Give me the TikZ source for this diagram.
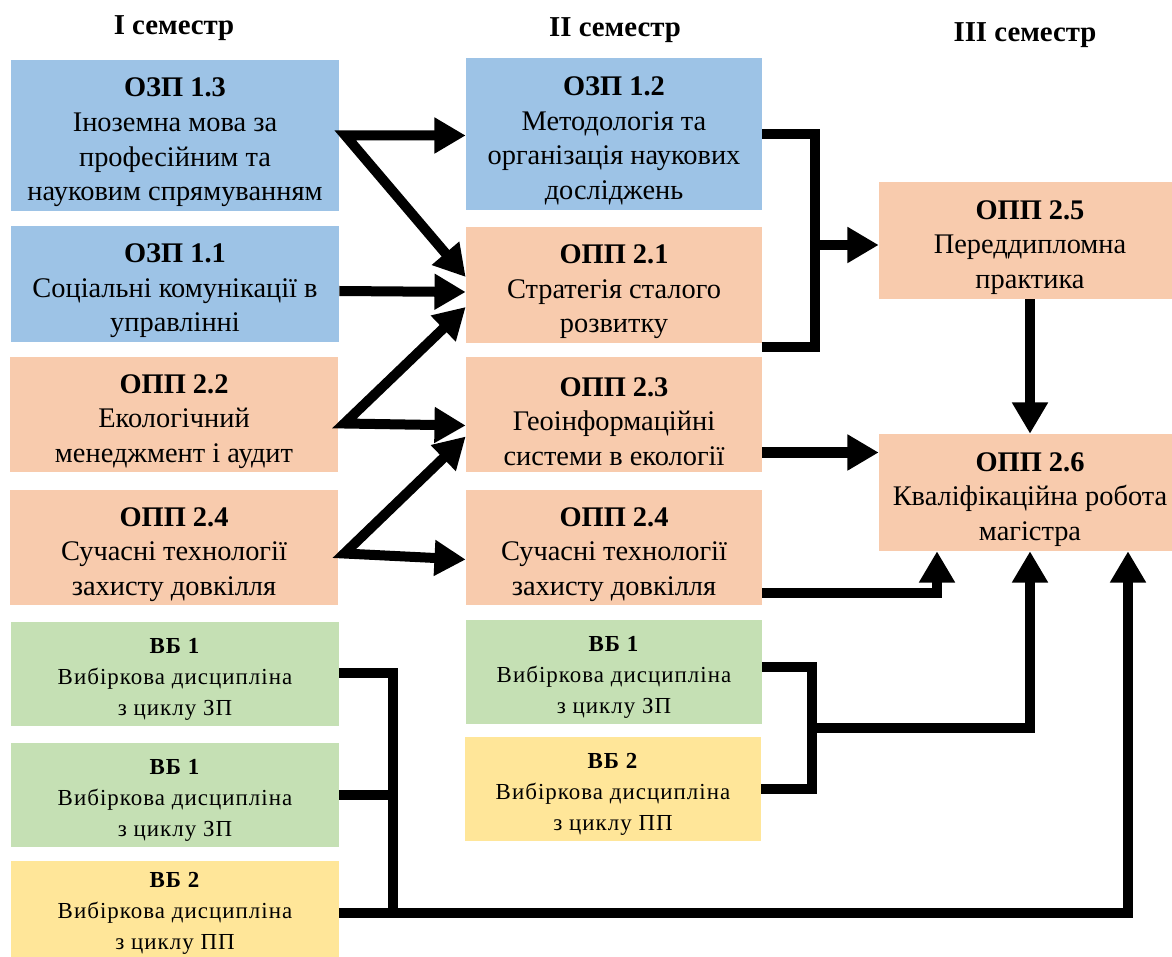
\documentclass[tikz,border=0pt]{standalone}
\usepackage{fontspec}
\setmainfont{Liberation Serif}[BoldFont={Liberation Serif Bold}]
\newfontfamily\vbfont{Liberation Serif}[BoldFont={Liberation Serif Bold}, LetterSpace=4.5]
\usepackage{tikz}
\usetikzlibrary{calc, positioning, arrows.meta}
\definecolor{zpblue}{HTML}{9DC3E6}
\definecolor{pppeach}{HTML}{F8CBAD}
\definecolor{vbgreen}{HTML}{C5E0B4}
\definecolor{vbyellow}{HTML}{FFE699}
\newcommand{\crsname}[1]{\rule{0pt}{1.15em}\textbf{#1}}
\tikzset{
    course/.style={rectangle, inner sep=0pt, align=center, anchor=center, font=\rmfamily\fontsize{20.2}{24.6}\selectfont},
    elective/.style={rectangle, inner sep=0pt, align=center, anchor=center, font=\vbfont\fontsize{16.3}{22}\selectfont},
    zp/.style={course, fill=zpblue},
    pp/.style={course, fill=pppeach},
    vbzp/.style={elective, fill=vbgreen},
    vbpp/.style={elective, fill=vbyellow},
    sem/.style={font=\rmfamily\fontsize{20.5}{24}\selectfont\bfseries},
    link/.style={line width=0.25cm},
    arrow/.style={link, -{Triangle[length=0.78cm, width=0.85cm]}},
    twoarrow/.style={link, {Triangle[length=0.78cm, width=0.85cm]}-{Triangle[length=0.78cm, width=0.85cm]}}
}

\begin{document}
\begin{tikzpicture}[x=0.025cm, y=-0.025cm]
        \useasboundingbox (0,0) rectangle (1172,957);
        \clip (0,0) rectangle (1172,957);

        % Semester headers
        \node[sem] (s1) at (174,28) {I семестр};
        \node[sem] (s2) at (615,30) {II семестр};
        \node[sem] (s3) at (1025,35) {III семестр};

        % I semester
        \node[zp, minimum width=8.2cm, minimum height=3.775cm] (zsp13) at (175,135.5) {\crsname{ОЗП 1.3}\\Іноземна мова за\\професійним та\\науковим спрямуванням};
        \node[zp, minimum width=8.2cm, minimum height=2.9cm] (zsp11) at (175,284) {\crsname{ОЗП 1.1}\\Соціальні комунікації в\\управлінні};
        \node[pp, minimum width=8.2cm, minimum height=2.875cm] (opp22) at (174,414.5) {\crsname{ОПП 2.2}\\Екологічний\\менеджмент і аудит};
        \node[pp, minimum width=8.2cm, minimum height=2.875cm] (opp24a) at (174,547.5) {\crsname{ОПП 2.4}\\Сучасні технології\\захисту довкілля};
        \node[vbzp, minimum width=8.2cm, minimum height=2.6cm] (vb1a) at (175,674) {\crsname{ВБ 1}\\Вибіркова дисципліна\\з циклу ЗП};
        \node[vbzp, minimum width=8.2cm, minimum height=2.6cm] (vb1b) at (175,795) {\crsname{ВБ 1}\\Вибіркова дисципліна\\з циклу ЗП};
        \node[vbpp, minimum width=8.2cm, minimum height=2.6cm] (vb2a) at (175,913) {\textbf{ВБ 2}\\Вибіркова дисципліна\\з циклу ПП};

        % II semester
        \node[zp, minimum width=7.4cm, minimum height=3.8cm] (zsp12) at (614,134) {\crsname{ОЗП 1.2}\\Методологія та\\організація наукових\\досліджень};
        \node[pp, minimum width=7.4cm, minimum height=2.9cm] (opp21) at (614,285) {\crsname{ОПП 2.1}\\Стратегія сталого\\розвитку};
        \node[pp, minimum width=7.4cm, minimum height=2.875cm] (opp23) at (614,414.5) {\crsname{ОПП 2.3}\\Геоінформаційні\\системи в екології};
        \node[pp, minimum width=7.4cm, minimum height=2.875cm] (opp24b) at (614,547.5) {\crsname{ОПП 2.4}\\Сучасні технології\\захисту довкілля};
        \node[vbzp, minimum width=7.4cm, minimum height=2.6cm] (vb1c) at (614,672) {\crsname{ВБ 1}\\Вибіркова дисципліна\\з циклу ЗП};
        \node[vbpp, minimum width=7.4cm, minimum height=2.6cm] (vb2b) at (613,789) {\crsname{ВБ 2}\\Вибіркова дисципліна\\з циклу ПП};

        % III semester
        \node[pp, minimum width=7.55cm, minimum height=2.925cm] (opp25) at (1030,240.5) {\crsname{ОПП 2.5}\\Переддипломна\\практика};
        \node[pp, minimum width=7.55cm, minimum height=2.925cm] (opp26) at (1030,492.5) {\crsname{ОПП 2.6}\\Кваліфікаційна робота\\магістра};

        % I -> II
        \draw[twoarrow] (zsp12.west |- zsp13.east) -- ($(zsp13.east)+(6,0)$) -- ($(opp21.west)+(0,-8)$);
        \draw[arrow] ($(zsp11.east)+(0,7)$) -- ($(opp21.west)+(0,7)$);
        \draw[twoarrow] ($(opp21.west)+(0,22)$) -- ($(opp22.east)+(6,9)$) -- ($(opp23.west)+(0,11)$);
        \draw[twoarrow] ($(opp23.west)+(0,22)$) -- ($(opp24a.east)+(6,6)$) -- ($(opp24b.west)+(0,12)$);

        % II -> III
        \coordinate (br1) at (815,245);
        \coordinate (geo) at ($(opp23.east)+(0,38)$);
        \draw[link] (zsp12.east) -| ($(br1 |- opp21.south)+(0,4)$) -- ($(opp21.south east)+(0,4)$);
        \draw[arrow] (br1) -- (opp25.west |- br1);
        \draw[arrow] (geo) -- (opp26.west |- geo);
        \draw[arrow] ($(opp24b.east)+(0,45.5)$) -| ($(opp26.south)+(-93,0)$);
        \draw[arrow] (opp25.south) -- (opp26.north);

        % electives
        \coordinate (br2) at (812,728);
        \draw[link] ($(vb1c.east)+(0,-5)$) -| (br2 |- vb2b.east) -- (vb2b.east);
        \draw[arrow] (br2) -| (opp26.south);
        \coordinate (br3) at (393,795);
        \draw[link] ($(vb1a.east)+(0,-1)$) -| (br3 |- vb2a.east);
        \draw[link] (vb1b.east) -- (br3);
        \draw[arrow] (vb2a.east) -| ($(opp26.south)+(98,0)$);
    \end{tikzpicture}
\end{document}
